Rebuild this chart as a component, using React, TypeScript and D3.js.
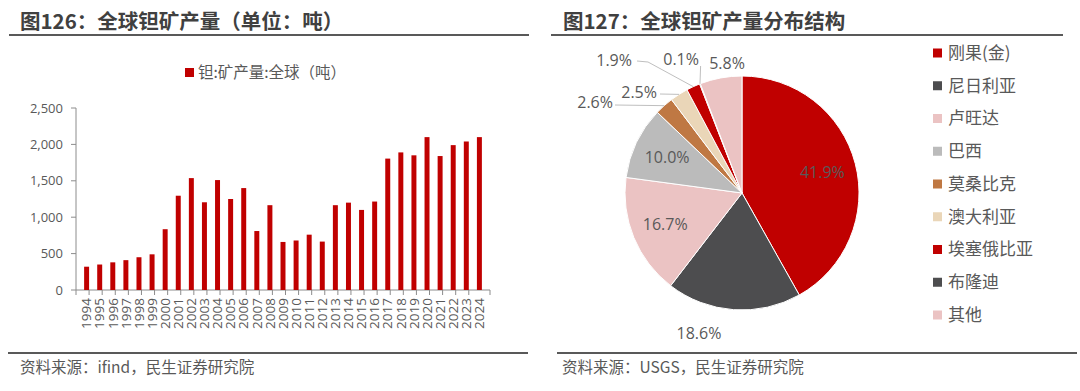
import * as d3 from "d3";

const years = d3.range(1994, 2025).map(String);
const output = [
  320, 350, 380, 410, 450, 490, 835, 1295, 1537, 1205, 1510, 1250, 1400, 810,
  1165, 660, 680, 760, 665, 1165, 1200, 1100, 1215, 1805, 1890, 1850, 2100,
  1840, 1990, 2040, 2100,
];
const yTicks = [0, 500, 1000, 1500, 2000, 2500];

const countries = [
  "刚果(金)",
  "尼日利亚",
  "卢旺达",
  "巴西",
  "莫桑比克",
  "澳大利亚",
  "埃塞俄比亚",
  "布隆迪",
  "其他",
];
const shares = [41.9, 18.6, 16.7, 10.0, 2.6, 2.5, 1.9, 0.1, 5.8];
const sliceColors = [
  "#C00000",
  "#4D4D4F",
  "#EBC3C3",
  "#BBBBBB",
  "#BF7843",
  "#EAD6B8",
  "#C00000",
  "#4D4D4F",
  "#EBC3C3",
];

// where the labels that don't sit at the centroid go (offsets from pie centre)
const labelSpots = {
  "尼日利亚": { x: -43, y: 140, anchor: "middle" },
  "莫桑比克": { x: -129, y: -91, anchor: "end", line: [[-127, -88]] },
  "澳大利亚": { x: -85, y: -101, anchor: "end", line: [[-82, -99]] },
  "埃塞俄比亚": { x: -110, y: -133, anchor: "end", line: [[-105, -132], [-94, -131]] },
  "布隆迪": { x: -43, y: -134, anchor: "end", line: [[-41.4, -127]] },
  "其他": { x: -15, y: -130, anchor: "middle" },
};

const cjk = "'Noto Sans CJK SC', 'Open Sans', sans-serif";
const num = "'Open Sans', 'Noto Sans CJK SC', sans-serif";
const grey = "#595959";

function BarPanel() {
  const x = d3.scaleBand().domain(years).range([76, 490]).padding(0.62);
  const y = d3.scaleLinear().domain([0, 2500]).range([290, 108]);
  const step = x.step();
  return (
    <g>
      <text x={20} y={29} fontFamily={cjk} fontSize={20.5} fontWeight="bold" fill="#404040">
        图126：全球钽矿产量（单位：吨）
      </text>
      <line x1={9} x2={529} y1={35} y2={35} stroke={grey} strokeWidth={2} />

      <rect x={185} y={68} width={9} height={9} fill="#C00000" />
      <text x={198} y={78} fontFamily={cjk} fontSize={15.5} fill={grey}>
        钽:矿产量:全球（吨）
      </text>

      <line x1={76} x2={76} y1={y(2500)} y2={y(0)} stroke="#8c8c8c" />
      {yTicks.map((t) => (
        <g key={t}>
          <line x1={71} x2={76} y1={y(t)} y2={y(t)} stroke="#8c8c8c" />
          <text
            x={63}
            y={y(t)}
            dy="0.35em"
            textAnchor="end"
            fontFamily={num}
            fontSize={13}
            fill={grey}
          >
            {d3.format(",")(t)}
          </text>
        </g>
      ))}
      <line x1={76} x2={490} y1={y(0)} y2={y(0)} stroke="#8c8c8c" />
      {years.map((yr, i) => {
        const left = x.range()[0] + i * step;
        return <line key={yr} x1={left} x2={left} y1={290} y2={295} stroke="#8c8c8c" />;
      })}
      <line x1={490} x2={490} y1={290} y2={295} stroke="#8c8c8c" />

      {years.map((yr, i) => (
        <rect
          key={yr}
          x={x(yr)}
          y={y(output[i])}
          width={x.bandwidth()}
          height={y(0) - y(output[i])}
          fill="#C00000"
        />
      ))}

      {years.map((yr) => {
        const cx = x(yr) + x.bandwidth() / 2;
        return (
          <text
            key={yr}
            transform={`translate(${cx},298) rotate(-90)`}
            textAnchor="end"
            dy="0.35em"
            fontFamily={num}
            fontSize={13.5}
            fill={grey}
          >
            {yr}
          </text>
        );
      })}

      <line x1={8} x2={528} y1={353} y2={353} stroke={grey} strokeWidth={2} />
      <text x={20} y={373} fontFamily={cjk} fontSize={15.5} fill={grey}>
        资料来源：ifind，民生证券研究院
      </text>
    </g>
  );
}

function PiePanel() {
  const cx = 742;
  const cy = 193;
  const r = 117;
  const pie = d3
    .pie<number>()
    .sort(null)
    .value((d) => d);
  const arcs = pie(shares);
  const arc = d3.arc<d3.PieArcDatum<number>>().innerRadius(0).outerRadius(r);
  const labelArc = d3
    .arc<d3.PieArcDatum<number>>()
    .innerRadius(r * 0.71)
    .outerRadius(r * 0.71);
  const rowY = d3.scalePoint().domain(countries).range([53, 315]);

  return (
    <g>
      <text x={563} y={29} fontFamily={cjk} fontSize={20.5} fontWeight="bold" fill="#404040">
        图127：全球钽矿产量分布结构
      </text>
      <line x1={551} x2={1063} y1={35} y2={35} stroke={grey} strokeWidth={2} />

      <g transform={`translate(${cx},${cy})`}>
        {arcs.map((a, i) => (
          <path key={countries[i]} d={arc(a)} fill={sliceColors[i]} stroke="#fff" strokeWidth={1} />
        ))}
        {arcs.map((a, i) => {
          const name = countries[i];
          const spot = labelSpots[name];
          const txt = d3.format(".1f")(shares[i]) + "%";
          if (!spot) {
            const [lx, ly] = labelArc.centroid(a);
            return (
              <text
                key={name}
                x={lx}
                y={ly}
                dy="0.35em"
                textAnchor="middle"
                fontFamily={num}
                fontSize={16}
                fill={grey}
              >
                {txt}
              </text>
            );
          }
          const mid = (a.startAngle + a.endAngle) / 2;
          const edge = [r * Math.sin(mid), -r * Math.cos(mid)];
          const pts = spot.line ? [...spot.line, edge] : null;
          return (
            <g key={name}>
              {pts && (
                <path
                  d={d3.line()(pts as [number, number][])}
                  fill="none"
                  stroke="#BFBFBF"
                  strokeWidth={1}
                />
              )}
              <text
                x={spot.x}
                y={spot.y}
                dy="0.35em"
                textAnchor={spot.anchor}
                fontFamily={num}
                fontSize={16}
                fill={grey}
              >
                {txt}
              </text>
            </g>
          );
        })}
      </g>

      {countries.map((c, i) => (
        <g key={c} transform={`translate(933,${rowY(c)})`}>
          <rect x={0} y={-4.5} width={9} height={9} fill={sliceColors[i]} />
          <text x={15} dy="0.35em" fontFamily={cjk} fontSize={17} fill={grey}>
            {c}
          </text>
        </g>
      ))}

      <line x1={557} x2={1077} y1={353} y2={353} stroke={grey} strokeWidth={2} />
      <text x={562} y={373} fontFamily={cjk} fontSize={15.5} fill={grey}>
        资料来源：USGS，民生证券研究院
      </text>
    </g>
  );
}

export default function App() {
  return (
    <svg
      width={1080}
      height={391}
      style={{ position: "absolute", left: 0, top: 0, background: "#fff" }}
    >
      <BarPanel />
      <PiePanel />
    </svg>
  );
}
